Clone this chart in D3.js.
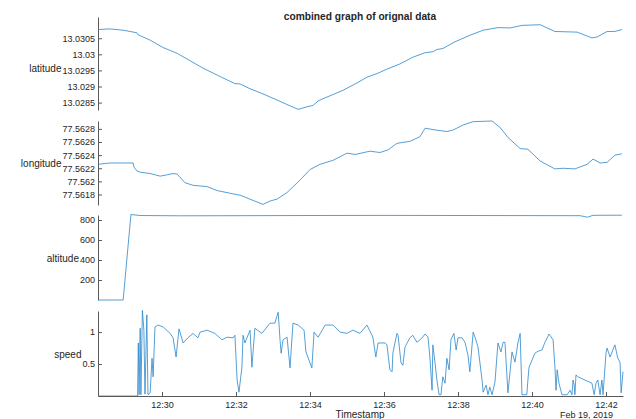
<!DOCTYPE html>
<html>
<head>
<meta charset="utf-8">
<script src="https://cdn.jsdelivr.net/npm/d3@7"></script>
<style>
    body { margin: 0; background: #fff; }
    text { font-family: "Liberation Sans", Arial, sans-serif; fill: #262626; }
</style>
</head>
<body>
<svg id="chart" width="636" height="419"></svg>
<script>
// times are minutes after 12:00 on Feb 19, 2019
const latTime = [28.27, 28.59, 28.95, 29.32, 29.35, 29.68, 30.03, 30.41, 30.76, 31.11,
    31.57, 31.97, 32.11, 32.38, 32.73, 33.11, 33.38, 33.68, 33.92, 34.08, 34.22, 34.35,
    34.62, 34.89, 35.27, 35.54, 35.81, 36.08, 36.43, 36.78, 37.11, 37.32, 37.43, 37.59,
    37.92, 38.32, 38.68, 39.08, 39.41, 39.73, 40.22, 40.62, 41.22, 41.62, 41.76, 42.03,
    42.24, 42.43];
const latValue = [13.03077, 13.03079, 13.03075, 13.03067, 13.03061, 13.03044, 13.03021,
    13.03003, 13.02980, 13.02957, 13.02931, 13.02909, 13.02908, 13.02893, 13.02877,
    13.02858, 13.02844, 13.02829, 13.02837, 13.02841, 13.02855, 13.02862, 13.02875,
    13.02888, 13.02911, 13.02929, 13.02940, 13.02954, 13.02970, 13.02991, 13.03005,
    13.03008, 13.03015, 13.03018, 13.03039, 13.03059, 13.03075, 13.03083, 13.03082,
    13.03090, 13.03092, 13.03071, 13.03069, 13.03051, 13.03054, 13.03071, 13.03071,
    13.03077];

const lonTime = [28.27, 28.59, 29.22, 29.24, 29.32, 29.41, 29.68, 29.95, 30.14, 30.30,
    30.41, 30.62, 30.84, 31.22, 31.49, 31.92, 32.11, 32.46, 32.73, 32.92, 33.11, 33.38,
    33.73, 34.00, 34.27, 34.62, 35.00, 35.22, 35.62, 35.89, 36.11, 36.35, 36.70, 36.97,
    37.11, 37.43, 37.70, 37.86, 38.14, 38.41, 38.92, 39.14, 39.35, 39.68, 39.89, 40.22,
    40.62, 40.84, 41.16, 41.49, 41.65, 41.84, 42.03, 42.24, 42.43];
const lonValue = [77.56226, 77.56228, 77.56228, 77.56222, 77.56216, 77.56214, 77.56212,
    77.56208, 77.56210, 77.56212, 77.56211, 77.56198, 77.56194, 77.56192, 77.56186,
    77.56181, 77.56179, 77.56171, 77.56165, 77.56170, 77.56173, 77.56183, 77.56202,
    77.56218, 77.56226, 77.56232, 77.56243, 77.56241, 77.56246, 77.56244, 77.56248,
    77.56258, 77.56261, 77.56268, 77.56281, 77.56278, 77.56276, 77.56278, 77.56286,
    77.56291, 77.56292, 77.56282, 77.56267, 77.56250, 77.56249, 77.56231, 77.56219,
    77.56220, 77.56219, 77.56226, 77.56234, 77.56228, 77.56229, 77.56240, 77.56242];

const altTime = [28.27, 28.95, 29.16, 29.41, 30.5, 32.0, 34.0, 36.0, 38.0, 40.0, 41.3,
    41.5, 41.65, 42.43];
const altValue = [0, 0, 855, 845, 842, 843, 845, 846, 845, 844, 843, 828, 847, 848];

const speedTime = [28.27, 29.34, 29.36, 29.38, 29.41, 29.43, 29.47, 29.51, 29.54, 29.59,
    29.62, 29.68, 29.73, 29.76, 29.81, 29.89, 30.03, 30.22, 30.30, 30.38, 30.46, 30.57,
    30.70, 30.84, 30.97, 31.03, 31.22, 31.43, 31.62, 31.76, 31.92, 31.97, 32.03, 32.08,
    32.16, 32.19, 32.24, 32.38, 32.43, 32.51, 32.70, 32.92, 33.05, 33.14, 33.19, 33.22,
    33.27, 33.38, 33.46, 33.54, 33.68, 33.84, 33.89, 34.05, 34.11, 34.22, 34.41, 34.62,
    34.81, 35.00, 35.16, 35.35, 35.54, 35.70, 35.78, 35.84, 36.03, 36.08, 36.16, 36.22,
    36.24, 36.35, 36.38, 36.46, 36.51, 36.57, 36.70, 36.78, 36.89, 37.03, 37.11, 37.19,
    37.24, 37.30, 37.32, 37.38, 37.43, 37.49, 37.54, 37.59, 37.65, 37.70, 37.76, 37.81,
    37.89, 37.95, 38.00, 38.11, 38.19, 38.27, 38.32, 38.41, 38.46, 38.54, 38.65, 38.68,
    38.76, 38.81, 38.86, 38.92, 39.00, 39.08, 39.16, 39.22, 39.27, 39.35, 39.46, 39.54,
    39.62, 39.68, 39.73, 39.86, 39.89, 39.92, 40.08, 40.16, 40.27, 40.35, 40.46, 40.57,
    40.62, 40.65, 40.68, 40.73, 40.81, 40.95, 41.03, 41.08, 41.11, 41.14, 41.16, 41.19,
    41.24, 41.62, 41.68, 41.73, 41.78, 41.84, 41.89, 41.92, 42.00, 42.03, 42.11, 42.24,
    42.32, 42.38, 42.41, 42.46];
const speedValue = [0, 0, 0.83, 0.02, 1.06, 0.02, 1.34, 1.03, 0.03, 1.27,
    0.02, 0.05, 0.59, 0.30, 1.08, 1.11, 1.08, 0.98, 0.91, 0.61, 1.05, 0.83,
    0.91, 0.98, 0.91, 1.00, 1.03, 0.98, 0.88, 0.92, 0.91, 0.95, 0.25, 0.06,
    0.45, 0.95, 0.83, 1.03, 0.45, 1.06, 0.98, 1.14, 1.14, 1.31, 0.88, 0.67,
    0.88, 0.92, 0.44, 1.14, 1.11, 1.03, 0.69, 0.44, 1.00, 0.92, 1.11, 1.11,
    1.00, 0.98, 1.03, 0.98, 1.11, 0.92, 0.61, 0.83, 0.83, 0.80, 0.41, 0.38,
    0.67, 0.98, 0.95, 0.52, 0.48, 0.77, 0.91, 0.95, 0.84, 0.91, 0.97, 0.92,
    0.61, 0.09, 0.80, 0.52, 0.25, 0.02, 0.02, 0.30, 0.20, 0.59, 0.41, 0.88,
    0.98, 0.72, 0.91, 0.91, 0.84, 0.64, 0.38, 1.00, 0.92, 0.77, 0.25, 0.06,
    0.17, 0.02, 0.14, 0.02, 0.22, 0.83, 0.69, 0.84, 0.84, 0.05, 0.69, 0.53,
    0.83, 0.98, 0.02, 0.02, 0.25, 0.45, 0.67, 0.70, 0.72, 0.84, 0.97, 0.88,
    0.45, 0.09, 0.41, 0.20, 0.02, 0.02, 0.09, 0.02, 0.25, 0.17, 0.02, 0.33,
    0.30, 0.20, 0.02, 0.20, 0.25, 0.02, 0.25, 0.02, 0.67, 0.75, 0.61, 0.80,
    0.59, 0.53, 0.05, 0.38];

const latTicks = [13.0285, 13.029, 13.0295, 13.03, 13.0305];
const lonTicks = [77.5618, 77.562, 77.5622, 77.5624, 77.5626, 77.5628];
const altTicks = [200, 400, 600, 800];
const speedTicks = [0.5, 1];
const xTickLabels = ["12:30", "12:32", "12:34", "12:36", "12:38", "12:40", "12:42"];

const svg = d3.select("#chart");
const day = new Date(2019, 1, 19, 12, 0, 0);
let toDate = m => new Date(+day + m * 60000);
const lineColor = "#2a86cc";
const axisColor = "#595959";

let x = d3.scaleTime()
    .domain([toDate(28.27), toDate(42.46)])
    .range([98, 623]);

const panels = [
    {name: "latitude", t: latTime, v: latValue, ticks: latTicks, domain: [13.02827, 13.03116], top: 17, bottom: 110},
    {name: "longitude", t: lonTime, v: lonValue, ticks: lonTicks, domain: [77.56164, 77.56292], top: 121, bottom: 205},
    {name: "altitude", t: altTime, v: altValue, ticks: altTicks, domain: [0, 850], top: 215, bottom: 300},
    {name: "speed", t: speedTime, v: speedValue, ticks: speedTicks, domain: [0, 1.33], top: 311, bottom: 396}
];

svg.append("text")
    .attr("x", 360)
    .attr("y", 20)
    .attr("text-anchor", "middle")
    .style("font-size", "10.2px")
    .style("font-weight", "bold")
    .text("combined graph of orignal data");

panels.forEach(function (p) {
    let y = d3.scaleLinear().domain(p.domain).range([p.bottom, p.top]);
    let data = p.t.map((t, i) => ({t: toDate(t), v: p.v[i]}));

    let yAxis = svg.append("g")
        .attr("transform", "translate(98,0)")
        .call(d3.axisLeft(y)
            .tickValues(p.ticks)
            .tickFormat(d3.format("~g"))
            .tickSize(-4)
            .tickSizeOuter(0)
            .tickPadding(3));
    yAxis.select(".domain").attr("stroke", axisColor);
    yAxis.selectAll(".tick line").attr("stroke", axisColor);
    yAxis.selectAll(".tick text")
        .attr("fill", "#262626")
        .style("font-size", "9px");

    // label sits just left of the widest tick label
    let box = yAxis.node().getBBox();
    svg.append("text")
        .attr("x", 98 + box.x - 1)
        .attr("y", p.bottom - 42)
        .attr("dy", "0.35em")
        .attr("text-anchor", "end")
        .style("font-size", "10px")
        .text(p.name);

    svg.append("path")
        .datum(data)
        .attr("fill", "none")
        .attr("stroke", lineColor)
        .attr("stroke-width", 0.8)
        .attr("d", d3.line().x(d => x(d.t)).y(d => y(d.v)));

    if (p.name === "speed") {
        let parseTick = d3.timeParse("%Y-%m-%d %H:%M");
        let xAxis = svg.append("g")
            .attr("transform", "translate(0," + p.bottom + ")")
            .call(d3.axisBottom(x)
                .tickValues(xTickLabels.map(s => parseTick("2019-02-19 " + s)))
                .tickFormat(d3.timeFormat("%H:%M"))
                .tickSize(-4)
                .tickSizeOuter(0)
                .tickPadding(5.5));
        xAxis.select(".domain").attr("stroke", axisColor);
        xAxis.selectAll(".tick line").attr("stroke", axisColor);
        xAxis.selectAll(".tick text")
            .attr("fill", "#262626")
            .style("font-size", "9px");
    }
});

svg.append("text")
    .attr("x", 360)
    .attr("y", 418)
    .attr("text-anchor", "middle")
    .style("font-size", "10px")
    .text("Timestamp");

svg.append("text")
    .attr("x", 613)
    .attr("y", 418)
    .attr("text-anchor", "end")
    .style("font-size", "9px")
    .text("Feb 19, 2019");
</script>
</body>
</html>
